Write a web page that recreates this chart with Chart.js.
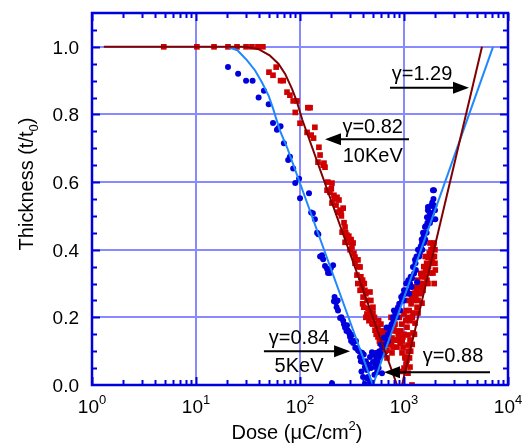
<!DOCTYPE html>
<html lang="en">
<head>
  <meta charset="UTF-8">
  <title>Thickness vs dose</title>
  <script src="https://cdn.jsdelivr.net/npm/chart.js"></script>
  <style>
    html, body { margin: 0; padding: 0; background: #fff; }
    #wrap { width: 524px; height: 446px; }
  </style>
</head>
<body>
  <div id="wrap"><canvas id="doseChart" width="524" height="446"></canvas></div>

  <script>
    // axis ticks
    const doseTicks = [1, 10, 100, 1000, 10000];
    const doseExponents = ['0', '1', '2', '3', '4'];
    const thickTicks = [0, 0.2, 0.4, 0.6, 0.8, 1.0];
    const thickLabels = ['0.0', '0.2', '0.4', '0.6', '0.8', '1.0'];

    // 10 KeV measurements, [dose, t/t0]
    const points10 = [
      [4.9, 1], [10.2, 1], [14.9, 1], [20.3, 1], [24.8, 1], [30.3, 1], [34.5, 1], [39.4, 1], [44, 1],
      [50.3, 0.925], [55, 0.916], [59, 0.94], [65, 0.90], [69, 0.90], [75, 0.866], [80, 0.857],
      [86, 0.84], [93.6, 0.84], [90, 0.806], [100, 0.774], [119, 0.82], [125, 0.82], [117, 0.747],
      [139, 0.762], [128, 0.739], [135, 0.73], [152, 0.703], [156, 0.68], [149, 0.659], [170, 0.656],
      [174, 0.644], [167, 0.65], [203, 0.597], [182, 0.576], [194, 0.57], [212, 0.561], [227, 0.555],
      [203, 0.538], [237, 0.547], [243, 0.517], [222, 0.532], [260, 0.523], [232, 0.511], [248, 0.508],
      [254, 0.452], [271, 0.467], [283, 0.443], [289, 0.434], [303, 0.422], [316, 0.408], [271, 0.422],
      [324, 0.42], [338, 0.378], [361, 0.37], [378, 0.349], [353, 0.325], [303, 0.40], [338, 0.36],
      [395, 0.295], [421, 0.28], [378, 0.28], [404, 0.26], [441, 0.25], [451, 0.227], [471, 0.216],
      [503, 0.213], [526, 0.183], [562, 0.171], [526, 0.162], [562, 0.142], [588, 0.124], [614, 0.112],
      [550, 0.095], [628, 0.095], [687, 0.08], [656, 0.154], [733, 0.162], [767, 0.139], [784, 0.112],
      [857, 0.133], [916, 0.124], [957, 0.095], [978, 0.142], [1069, 0.171], [1093, 0.118], [1023, 0.083],
      [687, 0.133], [471, 0.275], [503, 0.23], [492, 0.183], [550, 0.171], [588, 0.154], [628, 0.127],
      [614, 0.097], [687, 0.103], [733, 0.124], [819, 0.133], [857, 0.112], [916, 0.142], [1142, 0.19],
      [1093, 0.148], [1220, 0.213], [1334, 0.23], [1364, 0.25], [1425, 0.272], [1490, 0.29], [1276, 0.272],
      [1194, 0.257], [978, 0.112], [1023, 0.08], [767, 0.095], [1194, 0.0], [1777, 0.42], [1899, 0.405],
      [1700, 0.378], [1858, 0.37], [1663, 0.349], [1777, 0.331], [1591, 0.32], [1700, 0.30], [1899, 0.331],
      [1985, 0.36], [1985, 0.40], [1858, 0.36], [1663, 0.31], [1523, 0.28], [1490, 0.242], [1364, 0.213],
      [1276, 0.183], [1220, 0.154], [1142, 0.133], [1093, 0.10], [1069, 0.074], [1142, 0.053], [1093, 0.035],
      [400, 0.24], [430, 0.20], [460, 0.19], [480, 0.25], [520, 0.20], [600, 0.18], [650, 0.12], [700, 0.16],
      [750, 0.20], [800, 0.17], [850, 0.16], [900, 0.20], [950, 0.18], [1000, 0.21], [1050, 0.22],
      [1100, 0.25], [1150, 0.27], [1250, 0.29], [1350, 0.31], [1450, 0.33], [1550, 0.35], [1600, 0.38],
      [1750, 0.39], [1900, 0.38], [2000, 0.34], [1950, 0.30],
      [410, 0.23], [440, 0.21], [480, 0.20], [500, 0.18], [540, 0.15], [570, 0.19], [580, 0.13], [620, 0.16],
      [640, 0.14], [660, 0.10], [700, 0.12], [720, 0.14], [760, 0.12], [790, 0.16], [820, 0.18], [880, 0.15],
      [930, 0.16], [960, 0.13], [1000, 0.15], [1040, 0.19], [1080, 0.20], [1120, 0.22], [1170, 0.24],
      [1200, 0.20], [1240, 0.25], [1300, 0.26], [1330, 0.28], [1380, 0.29], [1400, 0.27], [1440, 0.30],
      [1480, 0.32], [1520, 0.30], [1560, 0.33], [1620, 0.34], [1650, 0.36], [1720, 0.35], [1800, 0.36],
      [1820, 0.40], [1940, 0.42], [1960, 0.38], [1000, 0.05], [1050, 0.06], [960, 0.04], [1130, 0.08],
      [1160, 0.10], [1200, 0.12], [1260, 0.15],
      [185, 0.60], [200, 0.58], [215, 0.55], [250, 0.50], [265, 0.48], [275, 0.45], [295, 0.44], [310, 0.43],
      [330, 0.39], [345, 0.37], [365, 0.35], [385, 0.32], [400, 0.31], [360, 0.30], [430, 0.27], [415, 0.30]
    ];

    // 5 KeV measurements, [dose, t/t0]
    const points5 = [
      [20.3, 0.94], [25.4, 0.92], [30.3, 0.90], [35, 0.90], [40, 0.85], [45, 0.87], [50, 0.83], [55, 0.775],
      [60, 0.755], [65, 0.765], [70, 0.715], [62, 0.76], [77, 0.665], [80, 0.675], [86, 0.64], [90, 0.597],
      [98, 0.61], [100, 0.552], [122, 0.567], [128, 0.51], [133, 0.508], [139, 0.49], [146, 0.45],
      [150, 0.446], [163, 0.384], [167, 0.372], [174, 0.352], [182, 0.343], [186, 0.331], [198, 0.346],
      [194, 0.331], [156, 0.38], [208, 0.354], [222, 0.245], [212, 0.248], [232, 0.22], [243, 0.198],
      [260, 0.19], [271, 0.17], [283, 0.177], [287, 0.162], [296, 0.157], [303, 0.142], [316, 0.148],
      [324, 0.124], [353, 0.109], [361, 0.103], [378, 0.083], [395, 0.095], [404, 0.068], [421, 0.053],
      [441, 0.044], [404, 0.024], [421, 0.003], [451, 0.024], [471, 0.083], [492, 0.097], [503, 0.068],
      [526, 0.053], [550, 0.038], [562, 0.068], [588, 0.083], [614, 0.035], [203, 0.005],
      [550, 0.095], [628, 0.112], [656, 0.139], [700, 0.15], [733, 0.162], [784, 0.20], [819, 0.216],
      [876, 0.23], [957, 0.25], [978, 0.266], [1069, 0.28], [1142, 0.30], [1180, 0.29], [1194, 0.316],
      [1220, 0.349], [1276, 0.37], [1334, 0.304], [1364, 0.40], [1490, 0.42], [1523, 0.45], [1591, 0.467],
      [1663, 0.496], [1700, 0.526], [1899, 0.529], [1985, 0.517], [1777, 0.479], [1858, 0.508],
      [1899, 0.576], [1700, 0.517], [1941, 0.576], [1600, 0.43], [1400, 0.38], [1300, 0.34], [1100, 0.31],
      [1000, 0.28], [900, 0.24], [800, 0.22], [680, 0.17], [600, 0.12], [640, 0.14], [1650, 0.45],
      [1800, 0.50], [2000, 0.49], [1550, 0.44], [1450, 0.41],
      [520, 0.03], [540, 0.06], [580, 0.10], [620, 0.09], [660, 0.12], [700, 0.13], [720, 0.17], [760, 0.18],
      [790, 0.19], [840, 0.21], [860, 0.20], [920, 0.22], [940, 0.26], [1000, 0.25], [1030, 0.27],
      [1050, 0.30], [1120, 0.27], [1160, 0.32], [1250, 0.33], [1290, 0.36], [1320, 0.38], [1420, 0.39],
      [1480, 0.43], [1500, 0.40], [1560, 0.42], [1620, 0.47], [1680, 0.48], [1740, 0.49], [1760, 0.51],
      [1820, 0.53], [1870, 0.54], [1920, 0.55], [1960, 0.53], [1880, 0.49],
      [330, 0.13], [340, 0.11], [345, 0.13], [370, 0.10], [385, 0.07], [410, 0.09], [430, 0.07], [460, 0.06],
      [480, 0.05], [390, 0.04], [440, 0.02], [470, 0.01], [500, 0.09], [540, 0.08], [570, 0.05], [230, 0.25],
      [250, 0.20], [265, 0.18], [280, 0.16], [300, 0.15], [310, 0.13], [215, 0.26], [225, 0.23]
    ];

    // fitted curves
    const fit10Down = [[1.3, 1], [30, 1], [40, 0.993], [51, 0.975], [62, 0.95], [72, 0.92], [84, 0.875], [94, 0.835], [105, 0.785], [857, 0]];
    const fit10Up = [[957, 0], [5623, 1]];
    const fit5Down = [[20, 1], [25, 0.99], [31, 0.96], [37, 0.93], [43, 0.895], [50, 0.855], [55, 0.818], [64, 0.753], [75, 0.703], [503, 0]];
    const fit5Up = [[503, 0], [7178, 1]];

    // text notes with arrows (data coordinates)
    const notes = [
      { lines: ['γ=1.29'], x: 1490, y: 0.917, arrow: [733, 4217, 0.879] },
      { lines: ['γ=0.82', '10KeV'], x: 500, y: 0.761, y2: 0.676, arrow: [1117, 174, 0.727] },
      { lines: ['γ=0.84', '5KeV'], x: 98, y: 0.139, y2: 0.055, arrow: [45, 303, 0.0995] },
      { lines: ['γ=0.88'], x: 2958, y: 0.084, arrow: [6714, 642, 0.0375] }
    ];

    const toXY = arr => arr.map(p => ({ x: p[0], y: p[1] }));
    const FONT = '"Liberation Sans", Arial, sans-serif';

    const fitLine = (data, color) => ({
      data: toXY(data),
      showLine: true,
      borderColor: color,
      borderWidth: 2,
      pointRadius: 0,
      order: 0
    });

    const framePlugin = {
      id: 'frame',
      afterDatasetsDraw(chart) {
        const ctx = chart.ctx;
        const xs = chart.scales.x, ys = chart.scales.y;
        ctx.save();
        ctx.fillStyle = '#000';
        ctx.strokeStyle = '#000';
        ctx.lineWidth = 2;
        ctx.font = '20px ' + FONT;
        ctx.textAlign = 'center';
        ctx.textBaseline = 'middle';
        notes.forEach(n => {
          const tx = xs.getPixelForValue(n.x);
          ctx.fillText(n.lines[0], tx, ys.getPixelForValue(n.y));
          if (n.lines[1]) ctx.fillText(n.lines[1], tx, ys.getPixelForValue(n.y2));
          const x1 = xs.getPixelForValue(n.arrow[0]);
          const x2 = xs.getPixelForValue(n.arrow[1]);
          const ay = ys.getPixelForValue(n.arrow[2]);
          const dir = x2 > x1 ? 1 : -1;
          ctx.beginPath();
          ctx.moveTo(x1, ay);
          ctx.lineTo(x2 - dir * 12, ay);
          ctx.stroke();
          ctx.beginPath();
          ctx.moveTo(x2, ay);
          ctx.lineTo(x2 - dir * 16, ay - 6);
          ctx.lineTo(x2 - dir * 16, ay + 6);
          ctx.closePath();
          ctx.fill();
        });
        ctx.restore();
      },
      afterDraw(chart) {
        const ctx = chart.ctx;
        const a = chart.chartArea;
        const xs = chart.scales.x, ys = chart.scales.y;
        ctx.save();
        ctx.strokeStyle = '#0000dd';
        ctx.lineWidth = 2;
        // minor ticks, pointing inward
        ctx.beginPath();
        for (let d = 1; d < 10000; d *= 10) {
          for (let k = 2; k <= 9; k++) {
            const px = Math.round(xs.getPixelForValue(k * d)) + 0.5;
            ctx.moveTo(px, a.bottom); ctx.lineTo(px, a.bottom - 5);
            ctx.moveTo(px, a.top); ctx.lineTo(px, a.top + 5);
          }
        }
        doseTicks.forEach(v => {
          const px = Math.round(xs.getPixelForValue(v)) + 0.5;
          ctx.moveTo(px, a.bottom); ctx.lineTo(px, a.bottom - 8);
          ctx.moveTo(px, a.top); ctx.lineTo(px, a.top + 8);
        });
        for (let i = 1; i <= 21; i++) {
          const py = Math.round(ys.getPixelForValue(i * 0.05)) + 0.5;
          const len = i % 4 === 0 ? 8 : 5;
          ctx.moveTo(a.left, py); ctx.lineTo(a.left + len, py);
          ctx.moveTo(a.right, py); ctx.lineTo(a.right - len, py);
        }
        ctx.stroke();
        ctx.lineWidth = 2.5;
        ctx.strokeRect(a.left, a.top, a.right - a.left, a.bottom - a.top);

        // tick labels
        ctx.fillStyle = '#000';
        ctx.textBaseline = 'alphabetic';
        ctx.textAlign = 'right';
        ctx.font = '19px ' + FONT;
        thickTicks.forEach((v, i) => {
          ctx.fillText(thickLabels[i], a.left - 13, ys.getPixelForValue(v) + 7);
        });
        ctx.textAlign = 'left';
        doseTicks.forEach((v, i) => {
          ctx.font = '19px ' + FONT;
          const wBase = ctx.measureText('10').width;
          ctx.font = '13px ' + FONT;
          const wSup = ctx.measureText(doseExponents[i]).width;
          const x0 = xs.getPixelForValue(v) - (wBase + wSup) / 2;
          ctx.font = '19px ' + FONT;
          ctx.fillText('10', x0, 413);
          ctx.font = '13px ' + FONT;
          ctx.fillText(doseExponents[i], x0 + wBase, 404);
        });

        // x title
        ctx.font = '20px ' + FONT;
        const t1 = 'Dose (μC/cm', t2 = ')';
        const w1 = ctx.measureText(t1).width, w3 = ctx.measureText(t2).width;
        ctx.font = '13px ' + FONT;
        const w2 = ctx.measureText('2').width;
        let xx = 297 - (w1 + w2 + w3) / 2;
        ctx.font = '20px ' + FONT;
        ctx.fillText(t1, xx, 439);
        ctx.font = '13px ' + FONT;
        ctx.fillText('2', xx + w1, 430);
        ctx.font = '20px ' + FONT;
        ctx.fillText(t2, xx + w1 + w2, 439);

        // y title
        ctx.translate(33, 184);
        ctx.rotate(-Math.PI / 2);
        const s1 = 'Thickness (t/t', s3 = ')';
        const v1 = ctx.measureText(s1).width, v3 = ctx.measureText(s3).width;
        ctx.font = '13px ' + FONT;
        const v2 = ctx.measureText('0').width;
        xx = -(v1 + v2 + v3) / 2;
        ctx.font = '20px ' + FONT;
        ctx.fillText(s1, xx, 0);
        ctx.font = '13px ' + FONT;
        ctx.fillText('0', xx + v1, 5);
        ctx.font = '20px ' + FONT;
        ctx.fillText(s3, xx + v1 + v2, 0);
        ctx.restore();
      }
    };

    const config = {
      type: 'scatter',
      data: {
        datasets: [
          fitLine(fit10Down, '#800000'),
          fitLine(fit10Up, '#800000'),
          fitLine(fit5Down, '#1e88ff'),
          fitLine(fit5Up, '#1e88ff'),
          {
            label: '10KeV',
            data: toXY(points10),
            pointStyle: 'rect',
            pointRadius: 4,
            borderWidth: 0,
            backgroundColor: '#d00000',
            order: 2
          },
          {
            label: '5KeV',
            data: toXY(points5),
            pointStyle: 'circle',
            pointRadius: 3,
            borderWidth: 0,
            backgroundColor: '#0000dd',
            order: 1
          }
        ]
      },
      options: {
        responsive: false,
        animation: false,
        layout: { padding: { left: 92, right: 16, top: 13, bottom: 61 } },
        plugins: { legend: { display: false }, tooltip: { enabled: false } },
        scales: {
          x: {
            type: 'logarithmic',
            min: 1,
            max: 10000,
            afterBuildTicks: s => { s.ticks = doseTicks.map(v => ({ value: v })); },
            ticks: { display: false },
            grid: { color: '#8a8aff', lineWidth: 2, drawTicks: false },
            border: { display: false }
          },
          y: {
            min: 0,
            max: 1.1,
            afterBuildTicks: s => { s.ticks = thickTicks.map(v => ({ value: v })); },
            ticks: { display: false },
            grid: { color: '#8a8aff', lineWidth: 2, drawTicks: false },
            border: { display: false }
          }
        }
      },
      plugins: [framePlugin]
    };

    new Chart(document.getElementById('doseChart'), config);
  </script>
</body>
</html>
